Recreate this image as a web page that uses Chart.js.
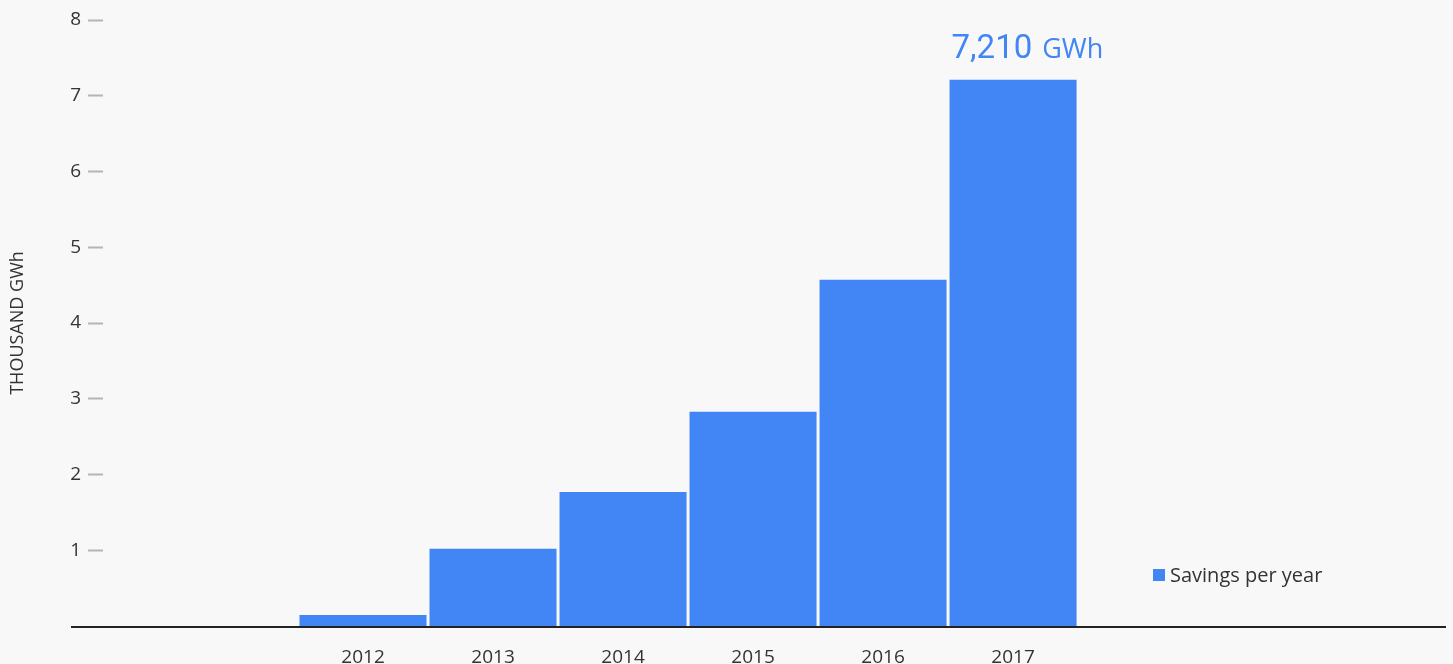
<!DOCTYPE html>
<html>
<head>
<meta charset="utf-8">
<script src="https://cdn.jsdelivr.net/npm/chart.js@4.4.1/dist/chart.umd.min.js"></script>
<style>
  html, body { margin: 0; padding: 0; background: #f8f8f8; }
  #wrap { position: relative; width: 1453px; height: 664px; overflow: hidden; }
  #legend {
    position: absolute; left: 1153px; top: 561px;
    font-family: "Open Sans", Roboto, sans-serif; font-size: 20px; color: #333;
    display: flex; align-items: center;
  }
  #legend .box { width: 12px; height: 12px; margin-right: 5px; }
</style>
</head>
<body>
<div id="wrap">
  <canvas id="chart" width="1453" height="664"></canvas>
  <div id="legend"></div>
</div>
<script>
// data
const years = [2012, 2013, 2014, 2015, 2016, 2017];
const savings = [0.145, 1.02, 1.77, 2.83, 4.57, 7.21]; // thousand GWh
const yTicks = [1, 2, 3, 4, 5, 6, 7, 8];
const seriesLabel = 'Savings per year';
const yTitle = 'THOUSAND GWh';

const blue = '#4285f4';
const font = '"Open Sans", Roboto, sans-serif';

// baseline drawn across the full width, plus the value label over the last bar
const decorations = {
    id: 'decorations',
    afterDatasetsDraw(chart) {
        const { ctx, chartArea } = chart;
        ctx.save();
        ctx.strokeStyle = '#222';
        ctx.lineWidth = 2;
        ctx.beginPath();
        ctx.moveTo(71, chartArea.bottom + 1);
        ctx.lineTo(chartArea.right, chartArea.bottom + 1);
        ctx.stroke();

        const meta = chart.getDatasetMeta(0);
        const bar = meta.data[meta.data.length - 1];
        const val = Math.round(savings[savings.length - 1] * 1000).toLocaleString('en-US');
        const x = bar.x - bar.width / 2 + 2;
        const y = bar.y - 22;
        ctx.fillStyle = blue;
        ctx.textBaseline = 'alphabetic';
        ctx.textAlign = 'left';
        ctx.font = '33px Roboto, sans-serif';
        ctx.fillText(val, x, y);
        const w = ctx.measureText(val).width;
        ctx.font = '27px ' + font;
        ctx.fillText('GWh', x + w + 10, y);
        ctx.restore();
    }
};

const chart = new Chart(document.getElementById('chart'), {
    type: 'bar',
    data: {
        datasets: [{
            label: seriesLabel,
            data: years.map((yr, i) => ({ x: yr, y: savings[i] })),
            backgroundColor: blue,
            borderWidth: 0,
            categoryPercentage: 1,
            barPercentage: 0.977
        }]
    },
    options: {
        responsive: false,
        animation: false,
        layout: { padding: { top: 20, right: 7, left: 0, bottom: 0 } },
        plugins: {
            legend: { display: false },
            tooltip: { enabled: false }
        },
        scales: {
            x: {
                type: 'linear',
                offset: false,
                min: 2010,
                max: 2020.33,
                grid: { display: false, drawTicks: false },
                border: { display: false },
                afterBuildTicks: s => { s.ticks = years.map(v => ({ value: v })); },
                afterFit: s => { s.height = 38; },
                ticks: {
                    padding: 20,
                    color: '#333',
                    font: { family: font, size: 19 },
                    callback: v => String(v)
                }
            },
            y: {
                min: 0,
                max: 8,
                afterBuildTicks: s => { s.ticks = yTicks.map(v => ({ value: v })); },
                afterFit: s => { s.width = 103; },
                grid: {
                    drawOnChartArea: false,
                    drawTicks: true,
                    tickLength: 15,
                    tickColor: '#b5b5b5',
                    tickWidth: 2
                },
                border: { display: false },
                ticks: {
                    padding: 7,
                    color: '#333',
                    font: { family: font, size: 19 }
                },
                title: {
                    display: true,
                    text: yTitle,
                    color: '#333',
                    font: { family: font, size: 18 },
                    padding: { top: 7, bottom: 0 }
                }
            }
        }
    },
    plugins: [decorations]
});

const legend = document.getElementById('legend');
legend.innerHTML = '<span class="box" style="background:' + blue + '"></span><span>' + seriesLabel + '</span>';
</script>
</body>
</html>
